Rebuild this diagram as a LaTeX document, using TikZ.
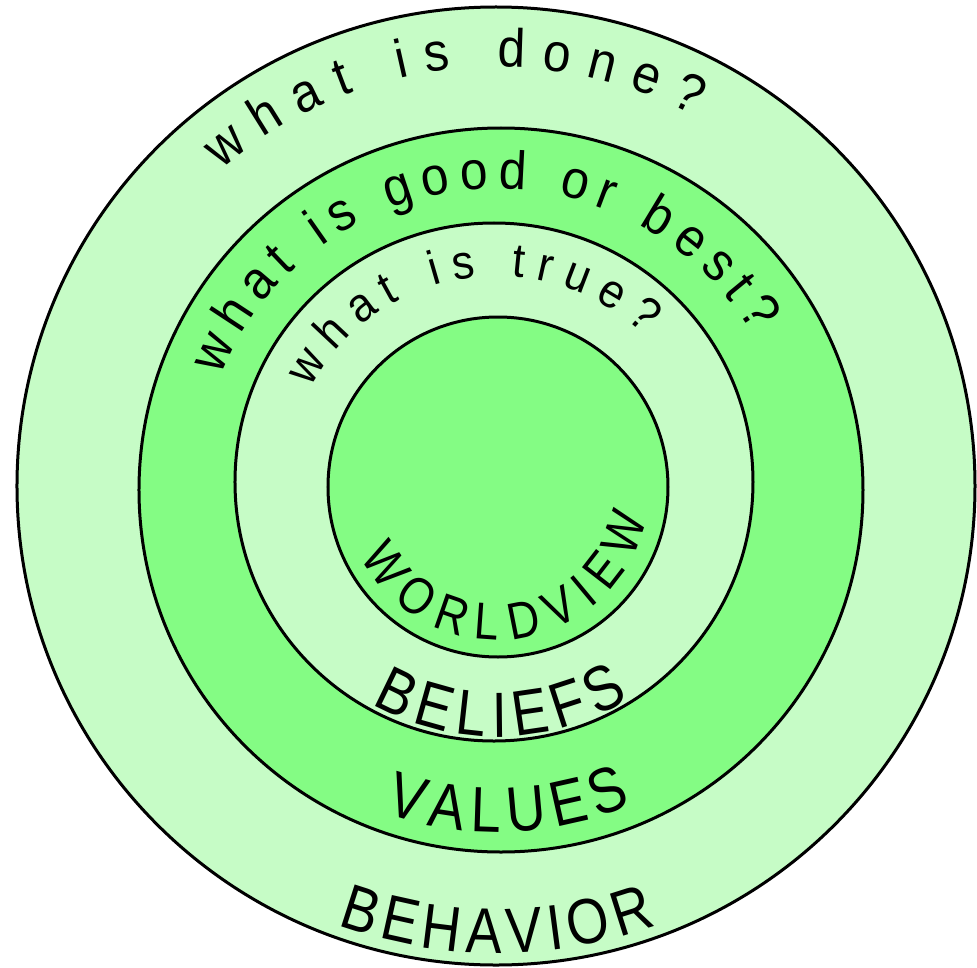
\documentclass[tikz,border=0pt]{standalone}
\usepackage{fontspec}
\setmainfont{Liberation Sans}
\newfontfamily\handfont[FakeStretch=0.85]{Liberation Sans}
\newfontfamily\lowfont[FakeStretch=0.92]{Liberation Sans}
\usetikzlibrary{decorations.text}
\definecolor{paleg}{HTML}{C6FCC6}
\definecolor{midg}{HTML}{84FC84}
\newcommand\lowA{\lowfont\fontsize{54}{58}\selectfont}
\newcommand\lowB{\lowfont\fontsize{54}{58}\selectfont}
\newcommand\lowC{\lowfont\fontsize{48}{52}\selectfont}
\newcommand\capA{\handfont\fontsize{64}{70}\selectfont}
\newcommand\capB{\handfont\fontsize{52}{56}\selectfont}
\tikzset{
  ring/.style={draw=black, line width=3pt},
  curvetext/.style={decorate, decoration={text along path, text align=fit to path}}
}
\begin{document}
\begin{tikzpicture}[x=1pt,y=1pt]
\useasboundingbox (-497,-480) rectangle (480,487);
% rings
\draw[ring, fill=paleg] (-1,1) circle[radius=479];
\draw[ring, fill=midg] (4,-3) circle[radius=362];
\draw[ring, fill=paleg] (-3,5) circle[radius=259];
\draw[ring, fill=midg] (1,0) circle[radius=170];
% top texts
\path[curvetext, decoration={text={|\lowA|what is done?}}]
  (131:420) arc[start angle=131, end angle=62, radius=420];
\path[curvetext, decoration={text={|\lowB|what is good or best?}}]
  (158:298) arc[start angle=158, end angle=31, radius=298];
\path[curvetext, decoration={text={|\lowC|what is true?}}]
  (152:211) arc[start angle=152, end angle=46, radius=211];
% bottom texts
\path[curvetext, decoration={text={|\capB|WORLDVIEW}}]
  (207:153) arc[start angle=207, end angle=348, radius=153];
\path[curvetext, decoration={text={|\capA|BELIEFS}}]
  (240:250) arc[start angle=240, end angle=302, radius=250];
\path[curvetext, decoration={text={|\capA|VALUES}}]
  (251:345) arc[start angle=251, end angle=293, radius=345];
\path[curvetext, decoration={text={|\capA|BEHAVIOR}}]
  (250:466) arc[start angle=250, end angle=290, radius=466];
\end{tikzpicture}
\end{document}
